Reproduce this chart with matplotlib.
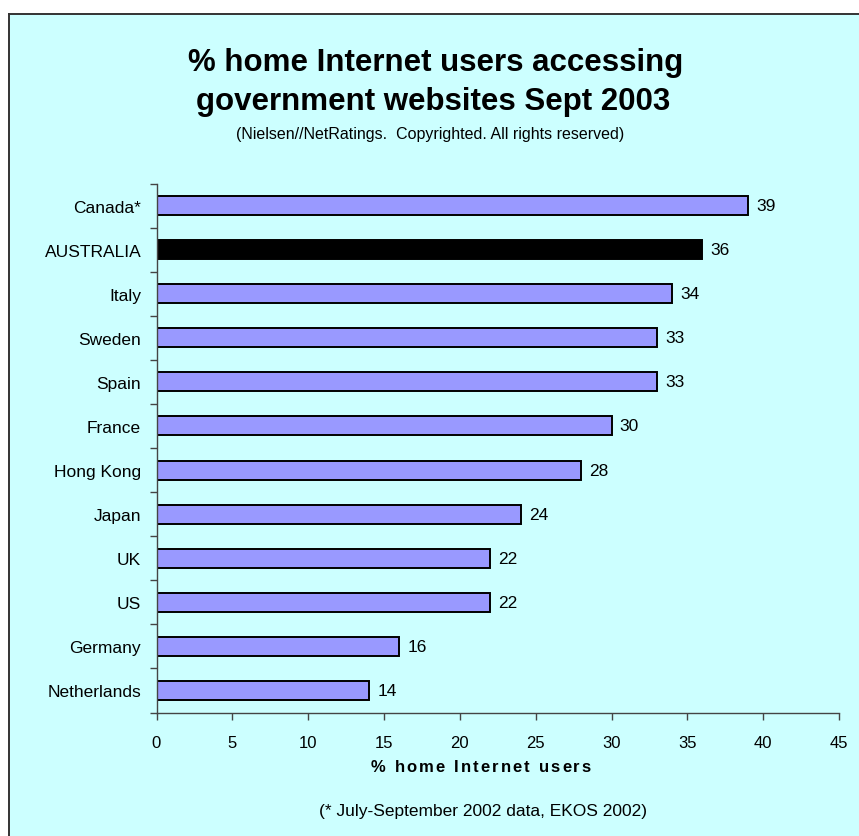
import matplotlib
matplotlib.use("Agg")
import matplotlib.pyplot as plt
from matplotlib.patches import Rectangle
from matplotlib.lines import Line2D
import numpy as np

plt.rcParams["font.family"] = ["Liberation Sans", "DejaVu Sans"]
plt.rcParams["font.size"] = 11

countries = ["Canada*", "AUSTRALIA", "Italy", "Sweden", "Spain", "France",
             "Hong Kong", "Japan", "UK", "US", "Germany", "Netherlands"]
values = [39, 36, 34, 33, 33, 30, 28, 24, 22, 22, 16, 14]
highlight = "AUSTRALIA"
x_ticks = [0, 5, 10, 15, 20, 25, 30, 35, 40, 45]

BG = "#CCFFFF"
BAR = "#9999FF"
W, H = 859, 837


def fx(px):
    return px / W


def fy(py):
    return 1 - py / H


def spaced_text(fig, x, y, s, gap_px, **kw):
    """Centered text with extra space between letters (pixel coords)."""
    r = fig.canvas.get_renderer()

    def width(t):
        a = fig.text(0, 0, t + "|", **kw)
        b = fig.text(0, 0, "|", **kw)
        w = a.get_window_extent(r).width - b.get_window_extent(r).width
        a.remove()
        b.remove()
        return w

    total = width(s) + gap_px * (len(s) - 1)
    left = x - total / 2
    for i, ch in enumerate(s):
        if ch == " ":
            continue
        off = width(s[:i]) + gap_px * i
        fig.text(fx(left + off), fy(y), ch, ha="left", va="baseline", **kw)


fig = plt.figure(figsize=(W / 100, H / 100), dpi=100)
fig.patch.set_facecolor("white")

# cyan panel with a dark edge on the left and top only
x0, y1 = fx(8.5), fy(14.5)
fig.patches.append(Rectangle((x0, 0), 1 - x0, y1, transform=fig.transFigure,
                             facecolor=BG, edgecolor="none", zorder=-5))
fig.lines.append(Line2D([x0, x0], [0, y1], transform=fig.transFigure,
                        color="#333333", lw=1.4, zorder=-4))
fig.lines.append(Line2D([x0, 1], [y1, y1], transform=fig.transFigure,
                        color="#333333", lw=1.4, zorder=-4))

ax = fig.add_axes([fx(156.5), fy(713.5), fx(839 - 156.5), (713.5 - 184.5) / H])
ax.set_facecolor("none")

y = np.arange(len(countries))
colors = ["black" if c == highlight else BAR for c in countries]
ax.barh(y, values, height=0.43, color=colors, edgecolor="black", linewidth=1.4)

for yi, v in zip(y, values):
    ax.text(v + 0.55, yi, f"{v}", va="center", ha="left", fontsize=12.5)

ax.set_xlim(0, 45)
ax.set_ylim(len(countries) - 0.5, -0.5)
ax.set_xticks(x_ticks)
ax.set_xticklabels([str(t) for t in x_ticks], fontsize=12)
ax.set_yticks(y)
ax.set_yticklabels(countries, fontsize=12.5)
ax.tick_params(axis="y", which="major", length=0, pad=11)
ax.set_yticks(np.arange(len(countries) + 1) - 0.5, minor=True)
ax.tick_params(axis="y", which="minor", length=5, width=1, color="#444444")
ax.tick_params(axis="x", length=5, width=1, color="#444444", pad=11)

for s in ["top", "right"]:
    ax.spines[s].set_visible(False)
for s in ["left", "bottom"]:
    ax.spines[s].set_color("#444444")
    ax.spines[s].set_linewidth(1)

# axis title, letter-spaced
spaced_text(fig, 481, 772, "% home Internet users", 2.1, fontsize=12, fontweight="bold")

fig.text(fx(436), fy(71), "% home Internet users accessing",
         ha="center", va="baseline", fontsize=22.5, fontweight="bold")
fig.text(fx(433), fy(110), "government websites Sept 2003",
         ha="center", va="baseline", fontsize=22.5, fontweight="bold")
fig.text(fx(430), fy(135), "(Nielsen//NetRatings.  Copyrighted. All rights reserved)",
         ha="center", va="center", fontsize=11.5)
fig.text(fx(483), fy(812), "(* July-September 2002 data, EKOS 2002)",
         ha="center", va="center", fontsize=12.5)

fig.savefig("out.png", dpi=100, facecolor=fig.get_facecolor())
